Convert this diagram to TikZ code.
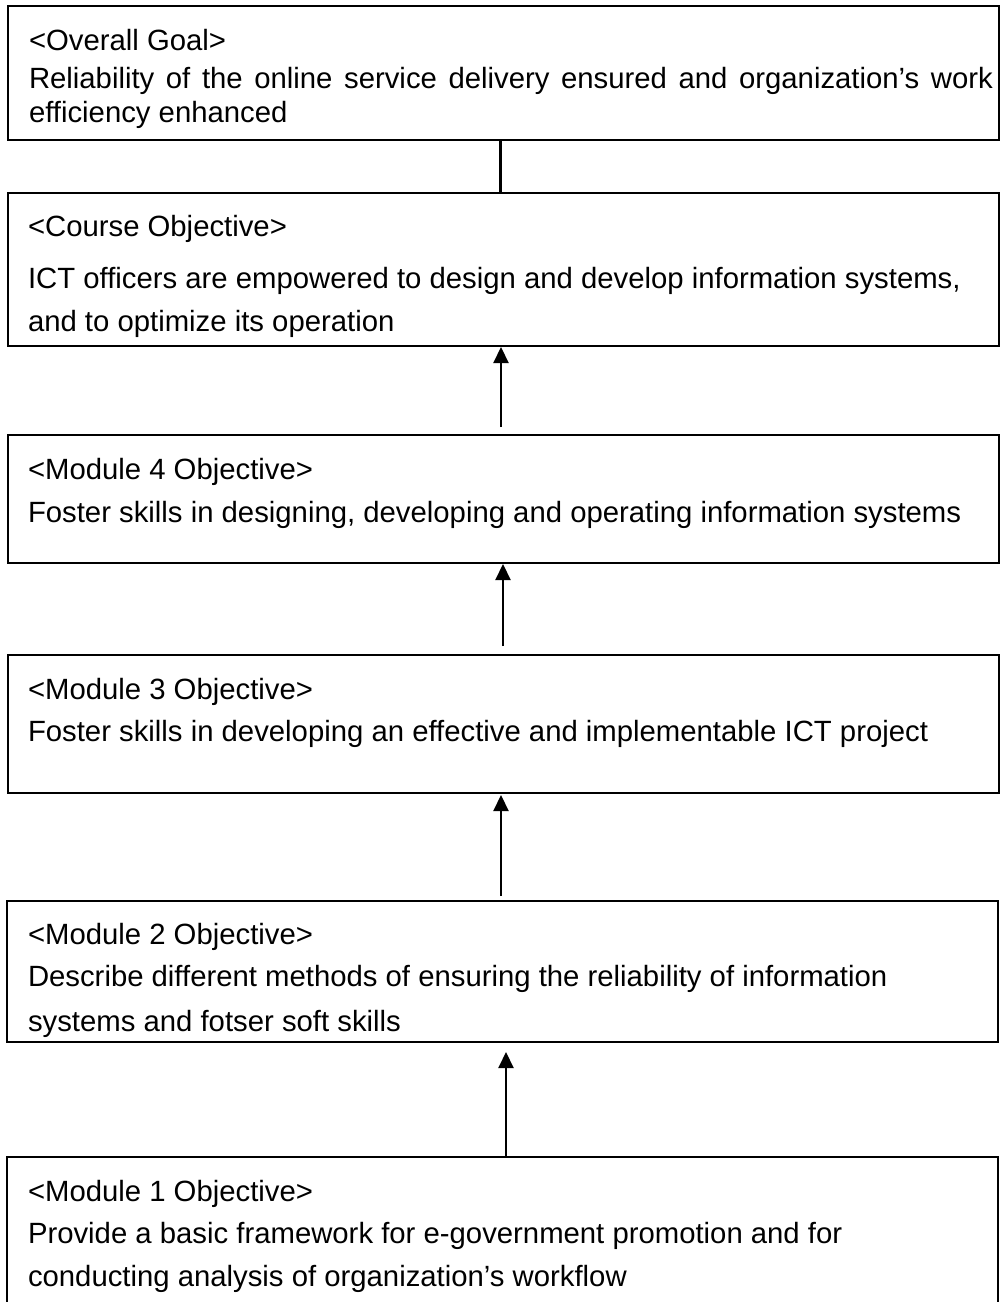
\documentclass[tikz,border=0pt]{standalone}
\usepackage{fontspec}
\setmainfont{Liberation Sans}
\usetikzlibrary{arrows.meta}
\tikzset{
  box/.style={draw=black, line width=2pt, fill=none},
  txt/.style={anchor=base west, inner sep=0pt, outer sep=0pt, font=\fontsize{29.3}{34}\selectfont},
  arr/.style={line width=2.2pt, -{Triangle[length=16pt,width=15pt]}},
  link/.style={line width=3pt}
}
\begin{document}
\begin{tikzpicture}[x=1pt,y=-1pt]
\useasboundingbox (0,0) rectangle (1000,1302);
\clip (0,0) rectangle (1000,1302);
% texts
\node[txt] (t1a) at (29,50) {<Overall Goal>};
\node[txt] (t1b) at (29,88) {\makebox[964pt][s]{Reliability of the online service delivery ensured and organization’s work}};
\node[txt] (t1c) at (29,122) {efficiency enhanced};
\node[txt] (t2a) at (28,236) {<Course Objective>};
\node[txt] (t2b) at (28,288) {ICT officers are empowered to design and develop information systems,};
\node[txt] (t2c) at (28,331) {and to optimize its operation};
\node[txt] (t4a) at (28,479) {<Module 4 Objective>};
\node[txt] (t4b) at (28,522) {Foster skills in designing, developing and operating information systems};
\node[txt] (t3a) at (28,699) {<Module 3 Objective>};
\node[txt] (t3b) at (28,741) {Foster skills in developing an effective and implementable ICT project};
\node[txt] (t5a) at (28,944) {<Module 2 Objective>};
\node[txt] (t5b) at (28,986) {Describe different methods of ensuring the reliability of information};
\begin{scope}
\clip (7,901) rectangle (998,1041);
\node[txt] (t5c) at (28,1031) {systems and fotser soft skills};
\end{scope}
\node[txt] (t6a) at (28,1201) {<Module 1 Objective>};
\node[txt] (t6b) at (28,1243) {Provide a basic framework for e-government promotion and for};
\node[txt] (t6c) at (28,1286) {conducting analysis of organization’s workflow};
% boxes
\draw[box] (7.5,6) rectangle (999,140);
\draw[box] (7.5,193) rectangle (999,346);
\draw[box] (7.5,435) rectangle (999,563);
\draw[box] (7.5,655) rectangle (999,793);
\draw[box] (7,901) rectangle (998,1042);
\draw[box] (7,1157) rectangle (998,1320);
% connectors
\coordinate (l1s) at (500,140);
\coordinate (l1e) at (500,193);
\draw[link] (l1s) -- (l1e);
\coordinate (a1s) at (501,427);
\coordinate (a1e) at (501,347);
\draw[arr] (a1s) -- (a1e);
\coordinate (a2s) at (503,646);
\coordinate (a2e) at (503,564);
\draw[arr] (a2s) -- (a2e);
\coordinate (a3s) at (501,896);
\coordinate (a3e) at (501,795);
\draw[arr] (a3s) -- (a3e);
\coordinate (a4s) at (506,1157);
\coordinate (a4e) at (506,1052);
\draw[arr] (a4s) -- (a4e);
\end{tikzpicture}
\end{document}
